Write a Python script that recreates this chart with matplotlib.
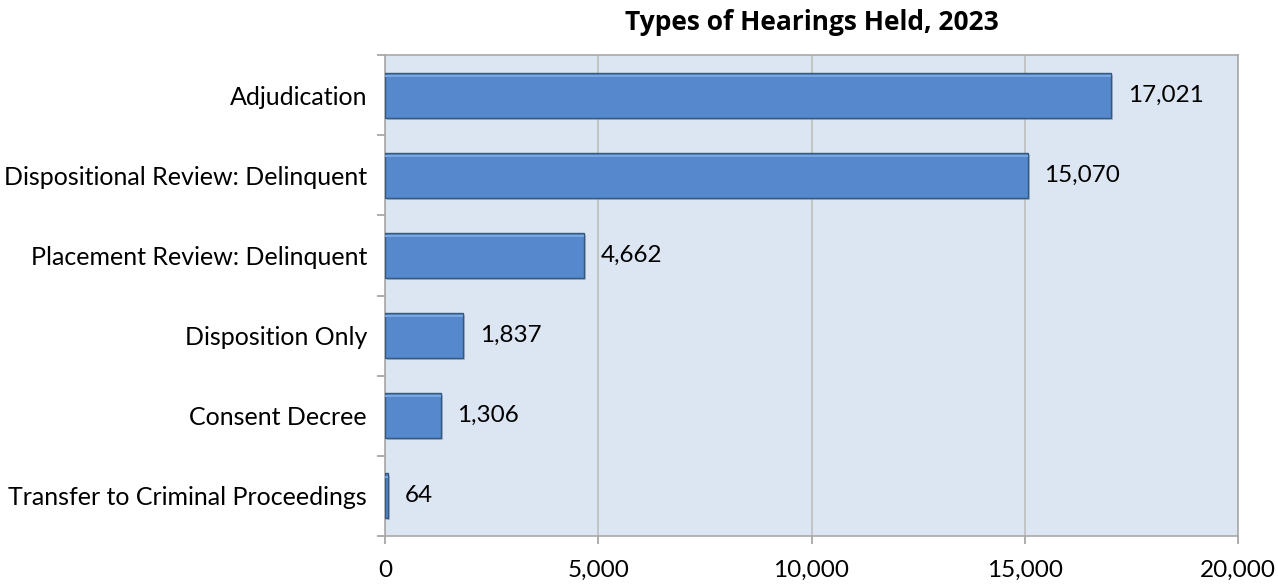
import matplotlib
matplotlib.use("Agg")
import matplotlib.pyplot as plt
import matplotlib.patheffects as pe
from matplotlib.ticker import FuncFormatter, MultipleLocator

categories = [
    "Adjudication",
    "Dispositional Review: Delinquent",
    "Placement Review: Delinquent",
    "Disposition Only",
    "Consent Decree",
    "Transfer to Criminal Proceedings",
]
values = [17021, 15070, 4662, 1837, 1306, 64]
title = "Types of Hearings Held, 2023"

plt.rcParams['font.family'] = ['Lato', 'DejaVu Sans']

fig = plt.figure(figsize=(12.78, 5.84), dpi=100)
ax = fig.add_axes([385/1278, 1-536/584, (1238-385)/1278, (536-55)/584])
ax.set_facecolor('#DCE6F2')

n = len(categories)
ypos = list(range(n))[::-1]
bars = ax.barh(ypos, values, height=0.56, color='#5588CC', edgecolor='#34597F',
               linewidth=1.0, zorder=3)
for b in bars:
    b.set_path_effects([pe.SimplePatchShadow(offset=(1.5, -1.5), shadow_rgbFace='#8090A8', alpha=0.5),
                        pe.Normal()])
    ax.plot([b.get_x(), b.get_x() + b.get_width()],
            [b.get_y() + b.get_height()*0.93]*2, color='#7AA6E0', lw=1.5, zorder=4,
            solid_capstyle='butt')

for y, v in zip(ypos, values):
    ax.annotate(f"{v:,}", xy=(v, y), xytext=(12, 0), textcoords='offset points',
                va='center', ha='left', fontsize=17.5, color='black', zorder=5)

ax.set_xlim(0, 20000)
ax.set_ylim(-0.5, n - 0.5)
ax.xaxis.set_major_locator(MultipleLocator(5000))
ax.xaxis.set_major_formatter(FuncFormatter(lambda x, p: f"{int(x):,}"))
ax.grid(axis='x', color='#BEBEBE', lw=1.2, zorder=1)
ax.set_axisbelow(True)

ax.set_yticks(ypos)
ax.set_yticklabels(categories, fontsize=18)
ax.set_yticks([i + 0.5 for i in range(-1, n)], minor=True)
ax.tick_params(axis='y', which='major', length=0, pad=13)
ax.tick_params(axis='y', which='minor', length=6, width=1.2, color='#A0A0A0')
ax.tick_params(axis='x', which='major', length=6, width=1.2, color='#A0A0A0',
               labelsize=17.5, pad=11)

for s in ax.spines.values():
    s.set_color('#A8A8A8')
    s.set_linewidth(1.2)

fig.text((385+1238)/2/1278, 1-30/584, title, ha='center', va='baseline',
         fontsize=19, fontweight='bold', family=['Open Sans', 'DejaVu Sans'])

fig.savefig('out.png', dpi=100)
